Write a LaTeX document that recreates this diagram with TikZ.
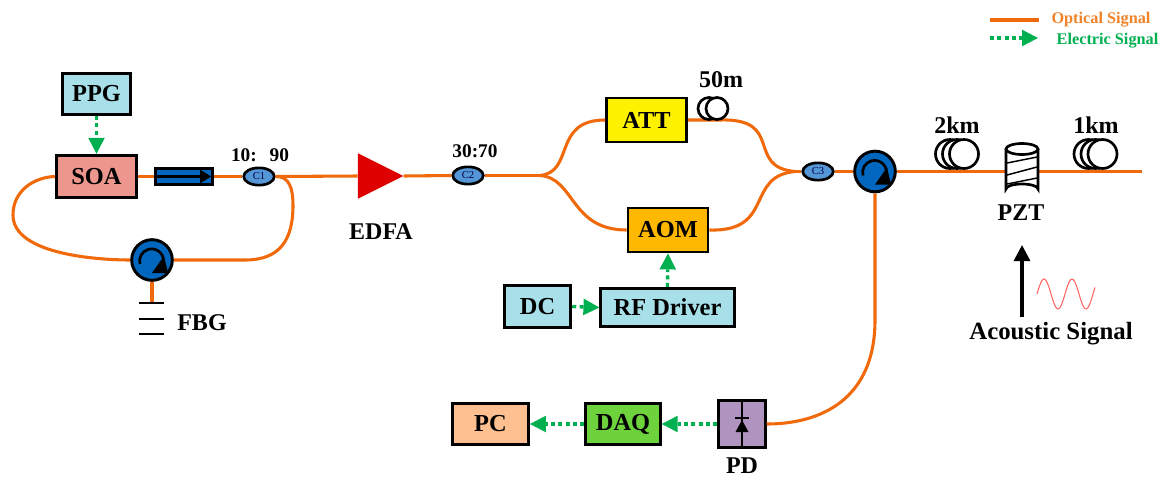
\documentclass[tikz,border=0pt]{standalone}
\usepackage{fontspec}
\setmainfont{Liberation Serif}
\usetikzlibrary{arrows.meta,calc,shapes.geometric}
\definecolor{opt}{RGB}{240,105,10}
\definecolor{ele}{RGB}{0,176,80}
\definecolor{cblue}{RGB}{0,102,190}
\definecolor{cpl}{RGB}{85,150,215}
\definecolor{pale}{RGB}{168,224,234}
\tikzset{
  x=0.75pt,y=-0.75pt,
  box/.style={draw=black,line width=2.1pt,inner sep=0pt,font=\fontsize{18.3}{18}\selectfont\bfseries,text=black},
  optical/.style={draw=opt,line width=2.3pt},
  electric/.style={draw=ele,line width=2.5pt,dash pattern=on 3pt off 2.5pt,-{Triangle[length=12pt,width=12.5pt,color=ele,line width=0pt]}},
  coupler/.style={draw=black,fill=cpl,ellipse,line width=2pt,minimum width=23pt,minimum height=13pt,inner sep=0pt,font=\fontsize{8}{8}\selectfont,text=black!70!blue},
  lbl/.style={font=\fontsize{18}{18}\selectfont\bfseries,text=black,inner sep=0pt},
  small/.style={font=\fontsize{14.5}{14}\selectfont\bfseries,text=black,inner sep=0pt},
  circ/.style={circle,draw=black,fill=cblue,line width=2.2pt,minimum size=30.5pt,inner sep=0pt},
  coil/.style={draw=black,line width=2pt},
  fbgline/.style={draw=black,line width=2.1pt},
}
\begin{document}
\begin{tikzpicture}
\useasboundingbox (0,0) rectangle (1160,479);
% boxes
\node[box,fill=pale,minimum width=51pt,minimum height=31pt] (ppg) at (96.5,94) {PPG};
\node[box,fill={rgb,255:red,236;green,150;blue,142},minimum width=60pt,minimum height=32pt] (soa) at (96.5,176.5) {SOA};
\node[box,fill=yellow,minimum width=60pt,minimum height=33pt] (att) at (646.5,120) {ATT};
\node[box,fill={rgb,255:red,255;green,184;blue,0},minimum width=60pt,minimum height=33pt] (aom) at (668,230) {AOM};
\node[box,fill=pale,minimum width=100pt,minimum height=29pt] (rf) at (667.5,307.5) {RF Driver};
\node[box,fill=pale,minimum width=50pt,minimum height=31pt] (dc) at (537.5,306.5) {DC};
\node[box,fill={rgb,255:red,255;green,192;blue,145},minimum width=57pt,minimum height=31pt] (pc) at (490.5,424) {PC};
\node[box,fill={rgb,255:red,110;green,210;blue,60},minimum width=56pt,minimum height=31pt] (daq) at (623,424) {DAQ};
\node[box,fill={rgb,255:red,176;green,148;blue,192},minimum width=35pt,minimum height=35pt] (pd) at (742,424) {};
\draw[line width=1.3pt] (pd.north) -- (pd.south);
\draw[line width=1.8pt] (735,418) -- (749,418);
\fill (742,420) -- (748.5,432) -- (735.5,432) -- cycle;
% isolator
\node[box,fill=cblue,minimum width=43pt,minimum height=12pt] (iso) at (184,176.5) {};
\draw[black,line width=1.6pt] (157,176.5) -- (205,176.5);
\fill[black] (200,169.5) -- (211,176.5) -- (200,183.5) -- cycle;
% couplers
\node[coupler] (c1) at (259,176.5) {C1};
\node[coupler] (c2) at (468,175.5) {C2};
\node[coupler] (c3) at (818,171.5) {C3};
% EDFA
\node[fill={rgb,255:red,222;green,0;blue,0},isosceles triangle,isosceles triangle apex angle=90,inner sep=0pt,minimum height=34pt,isosceles triangle stretches,minimum width=34pt] (edfa) at (372,176) {};
% fibres
\draw[optical] (soa.east) -- (iso.west);
\draw[optical] (iso.east) -- (c1.west);
\draw[optical] (c1.east) -- (edfa.west);
\draw[optical] (edfa.east) -- (c2.west);
\node[circ] (cA) at (152,260) {};
\node[circ] (cB) at (875,171.5) {};
\foreach \c in {cA,cB}{
  \draw[black,line width=2pt] ($(\c)+(-12,4)$) arc[start angle=165,end angle=350,radius=12];
  \fill[black] ($(\c)+(0,13)$) -- ($(\c)+(16,13)$) -- ($(\c)+(12,-4)$) -- cycle;
}
\draw[optical] (c1.east) .. controls (290,176) and (293,190) .. (293,205)
   .. controls (293,240) and (280,260) .. (245,260) -- (cA.east);
\draw[optical] (cA.west) .. controls (100,260) and (13,255) .. (13,215)
   .. controls (13,190) and (35,177) .. (soa.west);
\coordinate (fbgtop) at (152,303);
\draw[optical] (cA.south) -- (fbgtop);
\coordinate (split) at (540,175.5);
\draw[optical] (c2.east) -- (split);
\draw[optical] (split) .. controls (575,172) and (552,120) .. (att.west);
\draw[optical] (split) .. controls (575,178) and (570,230) .. (aom.west);
\coordinate (merge) at (795,171.5);
\draw[optical] (att.east) -- (720,120) .. controls (785,118) and (745,167) .. (merge);
\draw[optical] (aom.east) .. controls (775,232) and (745,176) .. (merge);
\draw[optical] (merge) -- (c3.west);
\draw[optical] (c3.east) -- (cB.west);
\coordinate (lineend) at (1142,171.5);
\draw[optical] (cB.east) -- (lineend);
\draw[optical] (cB.south) -- (875,320) .. controls (875,400) and (820,424) .. (pd.east);
% coils
\foreach \dx in {-8,0}{\draw[coil,fill=white] (717+\dx,108.5) circle[radius=11];}
\foreach \dx in {-14,-7,0}{\draw[coil,fill=white] (964+\dx,154) circle[radius=14.5];}
\foreach \dx in {-14,-7,0}{\draw[coil,fill=white] (1102.5+\dx,154) circle[radius=14.5];}
% PZT
\draw[coil,fill=white] (1006,149) -- (1006,189) arc[start angle=180,end angle=360,x radius=16,y radius=5] -- (1038,149);
\draw[coil,fill=white] (1022,149) ellipse[x radius=16,y radius=5.5];
\draw[black,line width=1.1pt] (1007,163) -- (1037,157) (1007,175) -- (1037,167) (1007,184) -- (1037,178);
% FBG
\draw[fbgline] (139,303) -- (164,303);
\draw[fbgline] (139,319) -- (164,319);
\draw[fbgline] (139,334) -- (164,334);
% electric
\draw[electric] (ppg.south) -- (soa.north);
\draw[electric] (dc.east) -- (rf.west);
\draw[electric] (rf.north) -- (aom.south);
\draw[electric] (daq.west) -- (pc.east);
\draw[electric] (pd.west) -- (daq.east);
% acoustic
\coordinate (acA) at (1022,317);
\coordinate (acB) at (1022,245);
\draw[black,line width=2.3pt,-{Triangle[length=12pt,width=12pt]}] (acA) -- (acB);
\draw[red!60!white,line width=0.8pt] plot[smooth,samples=50,domain=0:58] ({1037+\x},{294-15*sin(\x*12.857)});
% labels
\node[lbl] (tf) at (202,323) {FBG};
\node[lbl] (te) at (381,232) {EDFA};
\node[small] (t1) at (260,155) {10:\,\,\,\,90};
\node[small] (t2) at (475,151) {30:70};
\node[lbl] (t50) at (721,80) {50m};
\node[lbl] (t2k) at (957,125) {2km};
\node[lbl] (t1k) at (1096,125) {1km};
\node[lbl] (tp) at (1021,213) {PZT};
\node[lbl] (tpd) at (742,466) {PD};
\node[lbl,font=\fontsize{18.6}{18}\selectfont\bfseries] (tac) at (1051,334) {Acoustic Signal};
% legend
\coordinate (l1a) at (990,20); \coordinate (l1b) at (1039,20);
\coordinate (l2a) at (990,38); \coordinate (l2b) at (1038,38);
\draw[optical] (l1a) -- (l1b);
\draw[electric] (l2a) -- (l2b);
\node[font=\fontsize{12.2}{12}\selectfont\bfseries,text={rgb,255:red,240;green,130;blue,40},inner sep=0pt] (lo) at (1101,20) {Optical Signal};
\node[font=\fontsize{12.2}{12}\selectfont\bfseries,text=ele,inner sep=0pt] (le) at (1107.5,41) {Electric Signal};
\end{tikzpicture}
\end{document}
